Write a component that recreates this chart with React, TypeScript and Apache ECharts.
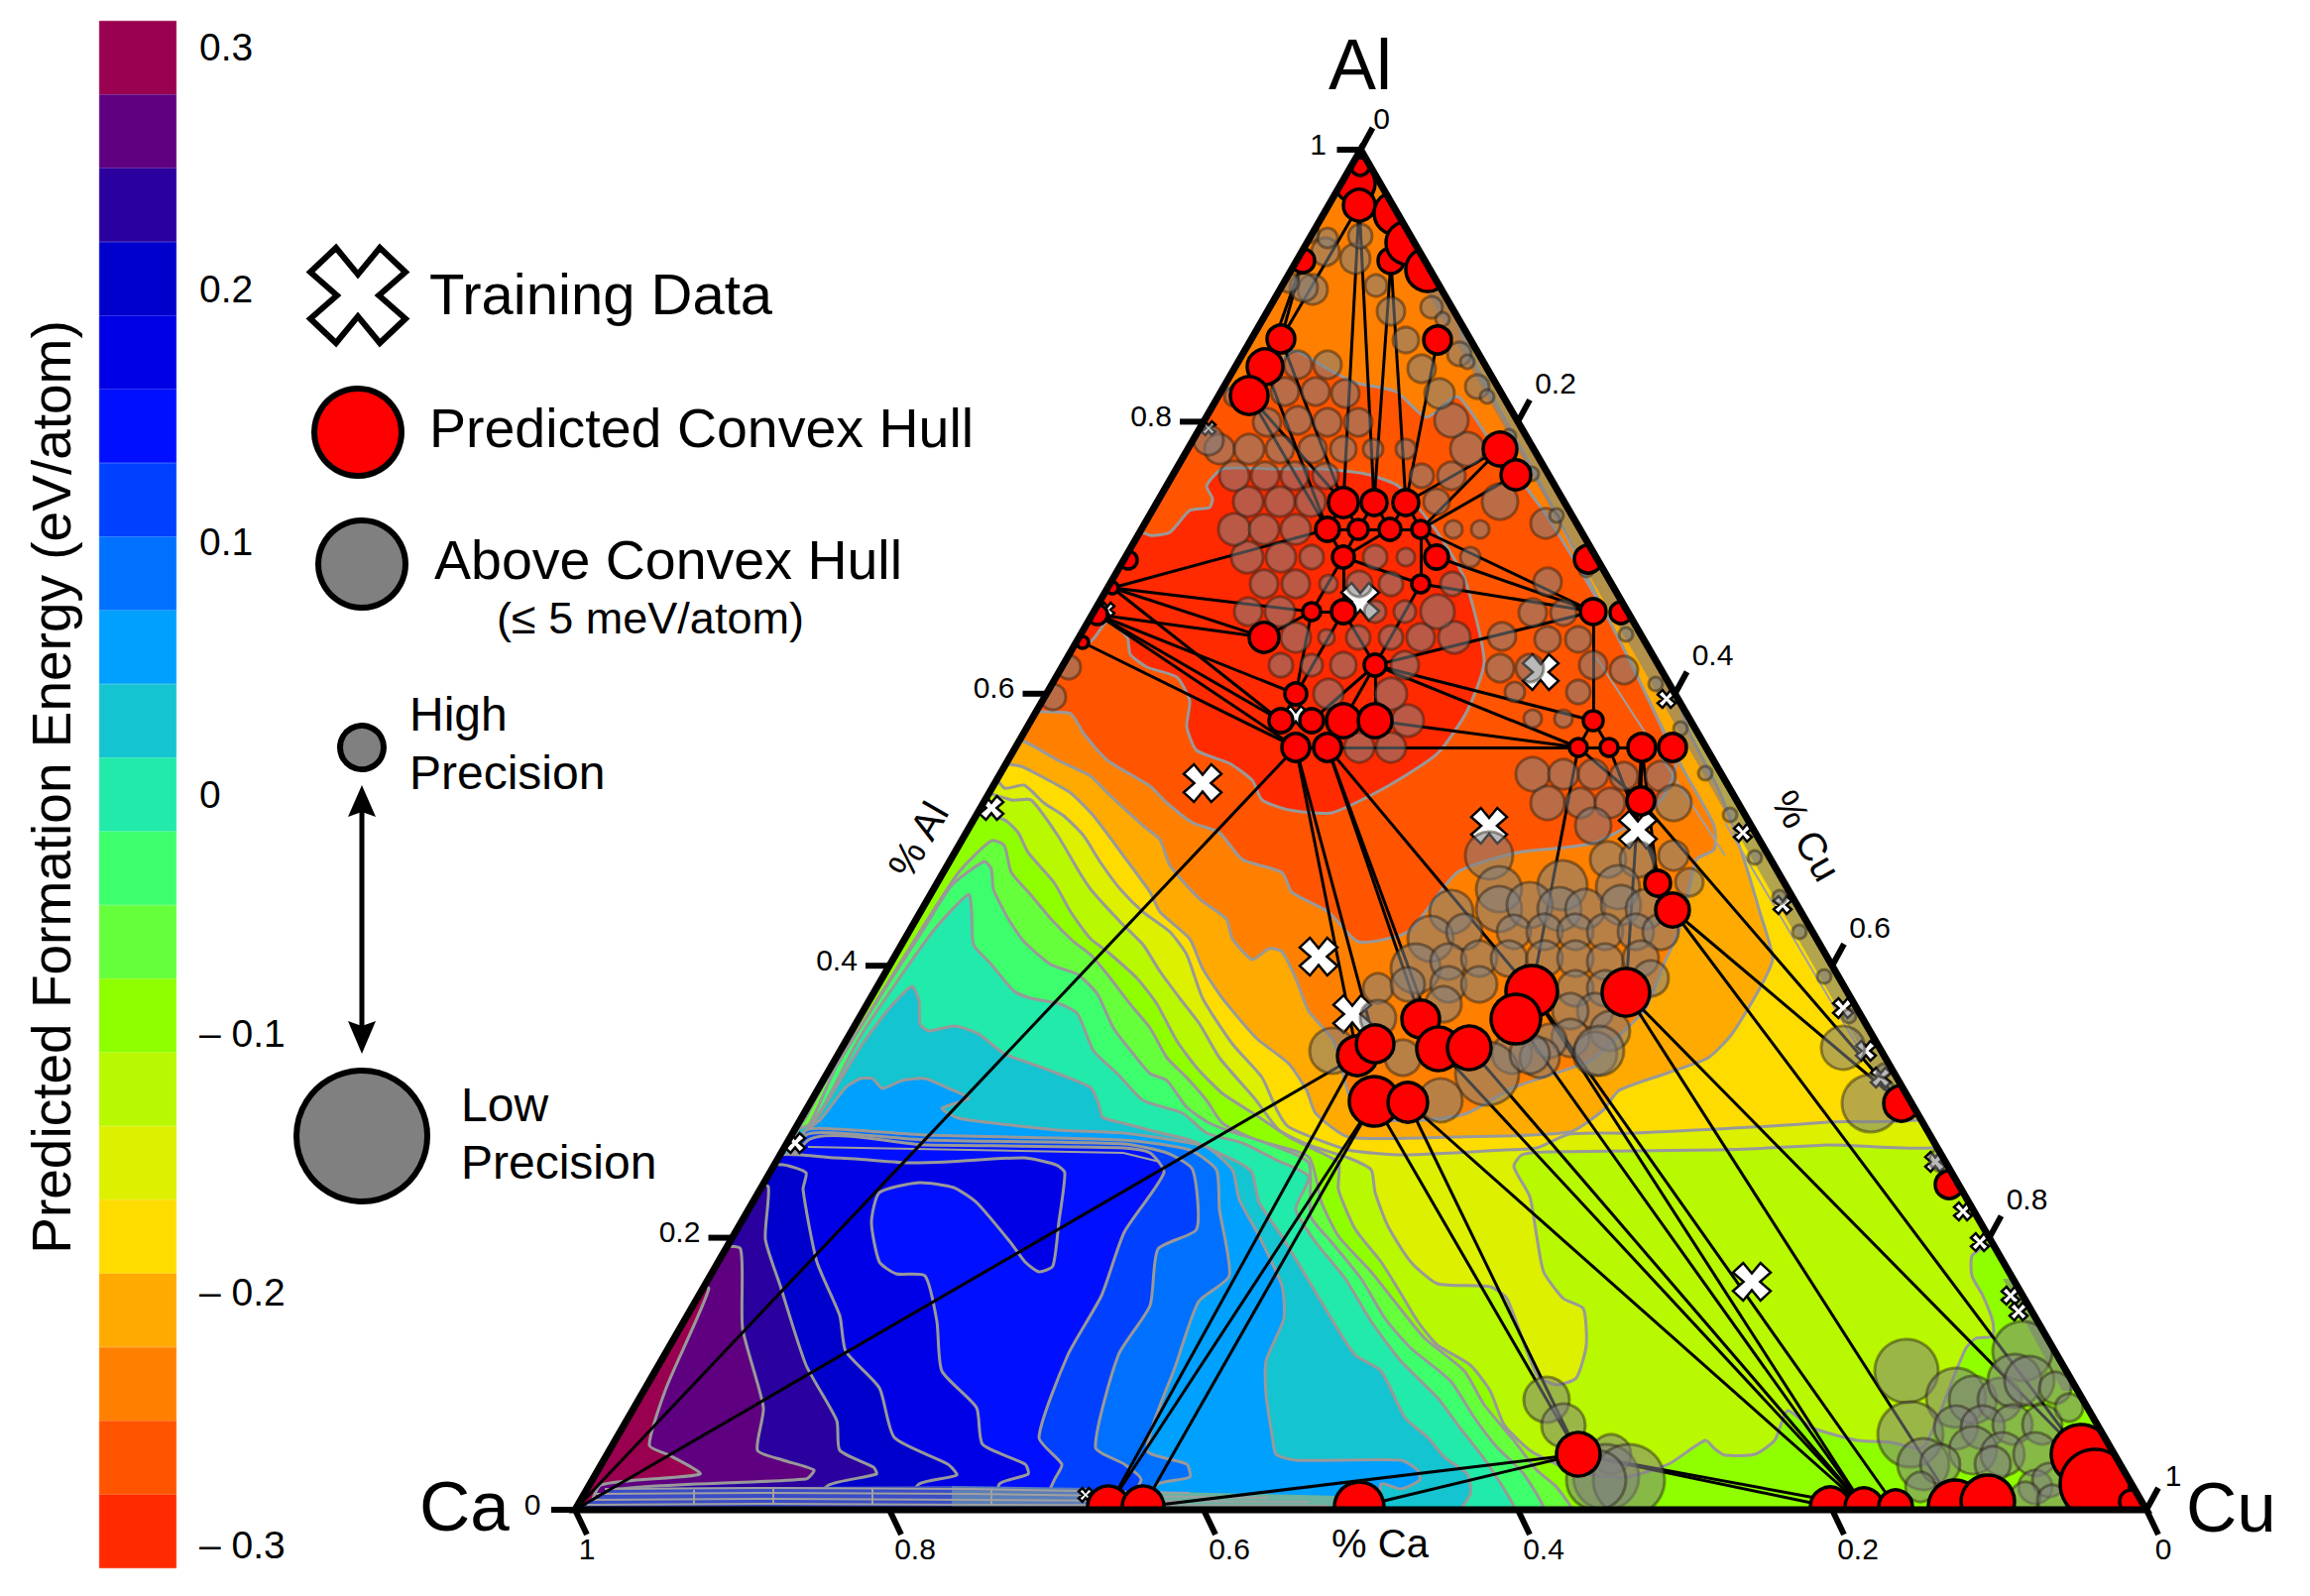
import React, { useEffect, useRef } from "react";
import * as echarts from "echarts";

type P = number[];
const FONT = '"Liberation Sans", Arial, sans-serif';

// Ternary plane: x runs along the Ca-Cu side, y is the height towards Al; side = 1585 units.
const SIDE = 1585;
const HEIGHT = 1372;

const bandColors = ["#990050","#5f0080","#2a009e","#0000cc","#0000e6","#0010ff","#0040ff","#0070ff","#00a0ff","#14c4d0","#22eaaa","#3dff6e","#66ff3c","#8fff00","#b8f800","#dcf000","#ffdc00","#ffaa00","#ff8000","#ff5500","#ff2a00"];
const barValues = bandColors.map(() => 1);
const barCats = bandColors.map((_, i) => "b" + i);
const energyLabels = ["0.3","0.2","0.1","0","– 0.1","– 0.2","– 0.3"];

const tickFractions = [0, 0.2, 0.4, 0.6, 0.8, 1];
const tickLabels = ["0", "0.2", "0.4", "0.6", "0.8", "1"];

const baseBand: P[] = [[0,0],[792.5,1372],[1585,0]];
const s13: P[] = [[395,703],[433,696],[447,683],[457,663],[483,633],[500,603],[520,576],[537,563],[567,536],[587,510],[607,473],[627,446],[653,420],[687,398],[720,376],[740,366],[770,350],[770,323],[787,283],[813,250],[830,223],[850,190],[870,166],[903,146],[923,120],[937,86],[963,60],[990,46],[1020,36],[1060,33],[1103,46],[1140,70],[1150,61],[1160,55],[1190,56],[1210,70],[1223,100],[1247,83],[1293,70],[1327,68],[1360,63],[1393,140],[1403,163],[1413,173],[1430,175],[1430,190],[1420,216],[1409,236],[1409,256],[1423,266],[1460,266],[1610,-17],[-20,-17]];
const s12: P[] = [[-15,-12],[210,363],[233,396],[253,433],[287,486],[337,566],[387,643],[420,675],[433,670],[440,643],[460,620],[480,596],[503,573],[520,560],[537,540],[560,510],[580,486],[597,456],[617,436],[637,413],[653,390],[687,373],[740,356],[753,310],[770,276],[803,240],[830,206],[857,173],[897,140],[917,106],[947,70],[970,40],[990,23],[1007,-7]];
const s11: P[] = [[-15,-12],[215,371],[237,390],[263,446],[313,526],[350,583],[380,630],[413,654],[420,646],[422,626],[437,596],[453,573],[480,550],[507,540],[527,520],[543,486],[563,460],[580,440],[597,433],[617,406],[640,390],[663,381],[697,370],[740,350],[742,296],[763,270],[793,233],[817,193],[843,163],[883,130],[907,93],[930,63],[957,36],[977,-7]];
const s10: P[] = [[-15,-12],[218,375],[233,383],[250,406],[287,476],[327,536],[363,586],[397,621],[400,603],[402,570],[420,550],[443,523],[460,516],[490,510],[507,500],[523,463],[547,440],[573,413],[613,400],[637,380],[673,370],[707,353],[740,336],[727,303],[747,270],[777,233],[803,190],[833,150],[870,113],[890,86],[923,43],[947,-7]];
const s9: P[] = [[-15,-12],[225,383],[240,390],[263,426],[290,470],[317,506],[340,528],[347,513],[348,490],[357,483],[383,488],[407,480],[433,460],[460,450],[487,440],[520,426],[528,410],[532,396],[553,390],[587,381],[620,373],[670,350],[683,340],[690,310],[713,276],[743,226],[767,186],[787,156],[813,140],[837,93],[860,73],[877,53],[900,36],[903,16],[883,-7]];
const s8: P[] = [[-15,-12],[230,380],[247,393],[273,426],[288,435],[300,435],[310,425],[330,433],[353,435],[377,425],[397,415],[370,405],[387,395],[440,388],[487,383],[553,380],[603,373],[637,366],[663,343],[670,313],[690,276],[713,226],[715,193],[697,150],[697,116],[703,76],[707,56],[727,50],[770,50],[833,50],[850,40],[852,30],[833,21],[813,26],[810,-7]];
const s7: P[] = [[-15,-12],[232,382],[263,384],[353,378],[553,373],[620,363],[647,343],[650,303],[660,236],[629,210],[606,146],[577,60],[617,46],[620,33],[588,26],[550,-7]];
const s6: P[] = [[-15,-12],[232,377],[263,380],[353,373],[553,369],[597,360],[623,343],[627,283],[588,263],[580,206],[548,156],[525,63],[554,46],[571,30],[540,-7]];
const s5: P[] = [[-15,-12],[233,371],[353,368],[553,365],[580,360],[594,340],[554,280],[531,216],[497,156],[468,73],[491,46],[485,33],[460,-7]];
const s4: P[] = [[-15,-12],[190,353],[263,355],[337,350],[377,351],[453,355],[485,348],[494,340],[488,290],[482,246],[468,240],[454,250],[439,270],[405,310],[382,325],[347,330],[307,320],[299,290],[307,250],[324,238],[353,236],[365,190],[370,140],[405,103],[411,66],[454,46],[457,36],[428,26],[420,-7]];
const s3: P[] = [[-15,-12],[190,345],[210,348],[233,340],[230,323],[244,250],[267,196],[273,160],[307,123],[322,73],[376,46],[385,35],[347,26],[320,-7]];
const s2: P[] = [[-15,-12],[180,326],[195,326],[192,273],[207,226],[233,146],[264,90],[267,60],[301,43],[304,36],[256,25],[220,-7]];
const s1: P[] = [[-15,-12],[145,263],[167,263],[169,183],[190,103],[184,60],[210,50],[241,40],[233,31],[37,20],[10,-7]];
const s0: P[] = [[-15,-12],[120,223],[135,223],[92,123],[75,65],[95,55],[126,36],[26,25],[10,-7]];
const t15: P[] = [[405,733],[440,716],[460,716],[487,680],[507,646],[520,626],[550,593],[573,570],[590,543],[610,516],[630,490],[650,456],[687,413],[710,383],[740,368],[780,355],[803,343],[807,320],[820,286],[843,250],[870,228],[923,225],[940,213],[970,136],[990,126],[1010,133],[1020,166],[1017,203],[997,213],[977,240],[970,276],[963,316],[947,346],[955,358],[980,361],[1150,363],[1263,368],[1395,376],[792,1380]];
const t16: P[] = [[420,753],[433,728],[453,731],[473,713],[493,700],[513,680],[530,653],[550,626],[573,603],[600,583],[617,560],[633,516],[663,470],[693,436],[708,403],[720,386],[780,363],[837,358],[937,363],[970,365],[1003,379],[1070,380],[1263,391],[1380,405],[792,1380]];
const t17: P[] = [[420,758],[450,750],[470,740],[500,723],[523,700],[553,660],[580,623],[590,603],[620,576],[633,546],[653,516],[687,476],[720,450],[738,423],[747,400],[780,376],[883,376],[1003,381],[1037,403],[1053,423],[1103,441],[1143,456],[1167,480],[1195,526],[1208,556],[1195,603],[1180,653],[1155,723],[1120,793],[1090,903],[792,1380]];
const t18: P[] = [[425,778],[453,775],[487,756],[520,740],[537,723],[573,690],[590,676],[600,650],[630,616],[657,596],[663,576],[683,555],[700,566],[713,563],[727,536],[740,503],[765,473],[790,398],[857,393],[900,400],[947,426],[1024,453],[1055,480],[1080,506],[1098,550],[1110,576],[1120,606],[1131,656],[1149,666],[1149,690],[1116,750],[1050,883],[980,1023],[900,1173],[830,1373],[792,1380]];
const t19: P[] = [[605,1103],[690,1143],[726,1169],[755,1153],[787,1137],[828,1128],[859,1102],[890,1123],[920,1083],[980,1003],[1040,903],[1080,823],[1110,753],[1100,723],[1080,700],[1029,673],[998,668],[950,663],[890,643],[840,583],[790,573],[760,603],[723,623],[713,643],[673,656],[650,683],[623,693],[597,713],[580,730],[537,756],[513,783],[500,803],[470,805],[450,805]];
const t20: P[] = [[550,993],[580,983],[600,986],[620,1008],[640,1011],[643,1020],[637,1033],[653,1050],[703,1050],[753,1050],[797,1045],[830,1033],[867,990],[897,940],[917,856],[900,806],[870,763],[820,730],[763,703],[720,706],[693,716],[683,736],[660,753],[627,766],[617,790],[620,816],[607,840],[577,850],[560,863],[557,880],[537,896],[520,876],[480,873]];

const contourLayers: { band: number; pts: P[]; stroke: boolean }[] = [
  { band: 14, pts: baseBand, stroke: false },
  { band: 13, pts: s13, stroke: true }, { band: 12, pts: s12, stroke: true }, { band: 11, pts: s11, stroke: true },
  { band: 10, pts: s10, stroke: true }, { band: 9, pts: s9, stroke: true }, { band: 8, pts: s8, stroke: true },
  { band: 7, pts: s7, stroke: true }, { band: 6, pts: s6, stroke: true }, { band: 5, pts: s5, stroke: true },
  { band: 4, pts: s4, stroke: true }, { band: 3, pts: s3, stroke: true }, { band: 2, pts: s2, stroke: true },
  { band: 1, pts: s1, stroke: true }, { band: 0, pts: s0, stroke: true },
  { band: 15, pts: t15, stroke: true }, { band: 16, pts: t16, stroke: true }, { band: 17, pts: t17, stroke: true },
  { band: 18, pts: t18, stroke: true }, { band: 19, pts: t19, stroke: true }, { band: 20, pts: t20, stroke: true },
];

// Densely contoured strip along the Ca-Cu side
const stripPatches: { color: string; pts: P[] }[] = [
  { color: "#3a4cc6", pts: [[0,0],[40,22],[380,24],[380,0]] },
  { color: "#5b7db8", pts: [[380,0],[380,24],[520,22],[520,0]] },
  { color: "#6ab3a0", pts: [[520,0],[520,20],[770,14],[770,0]] },
  { color: "rgba(128,128,128,0.6)", pts: [[845,1253],[880,1253],[1365,408],[1330,408]] },
  { color: "rgba(128,128,128,0.6)", pts: [[1440,233],[1460,233],[1530,120],[1500,120]] },
];
const extraLines: P[][] = [
  [[30,21],[200,22],[400,21],[620,17]], [[20,16],[200,17],[400,16],[700,12]], [[15,10],[200,11],[400,10],[740,8]], [[12,5],[200,6],[400,5],[760,4]],
  [[120,6],[120,20]], [[200,6],[200,21]], [[300,6],[300,21]], [[420,6],[420,20]],
  [[235,366],[553,360],[590,351]], [[1160,693],[1320,423]], [[1030,860],[1160,660]],
];

// [x, y, diameter]
const hullPoints: P[] = [[0,0,4],[775,1016,30],[806,1016,26],[838,1016,26],[759,989,24],[790,989,20],[822,989,22],[853,989,18],[775,961,22],[869,961,24],[853,934,18],[743,906,18],[775,906,24],[695,880,30],[807,852,22],[727,823,22],[712,796,24],[743,796,24],[775,796,34],[807,796,34],[727,769,28],[759,769,28],[1027,906,26],[1027,796,20],[1012,769,18],[1043,769,18],[1076,769,28],[1107,769,28],[712,1181,28],[696,1153,36],[680,1124,38],[870,1180,28],[933,1070,34],[949,1044,30],[1075,715,28],[1092,632,26],[1107,605,34],[1060,522,48],[965,523,52],[949,495,50],[853,495,38],[871,465,44],[902,466,44],[789,458,40],[807,470,38],[806,412,50],[840,411,40],[1338,410,36],[1386,328,28],[1012,56,44],[1266,3,40],[1300,3,38],[1332,3,34],[1392,3,54],[1425,8,54],[1519,56,60],[1533,26,70],[1570,8,24],[538,3,42],[573,3,42],[791,3,50],[787,1338,40],[791,1316,32],[828,1308,44],[823,1260,26],[840,1278,44],[860,1251,44],[734,1260,24],[1022,959,28],[1055,905,22],[558,958,18],[542,930,12],[527,903,20],[512,875,12],[792,1355,18]];

const tieLines: number[][] = [[0,20],[0,43],[58,43],[58,45],[59,45],[59,49],[60,49],[45,49],[46,49],[46,51],[41,51],[42,51],[39,51],[38,51],[38,52],[37,53],[37,55],[36,55],[34,47],[36,47],[49,50],[49,51],[20,43],[20,44],[21,40],[21,38],[21,41],[71,4],[71,11],[71,13],[72,13],[72,15],[72,16],[72,20],[73,20],[71,16],[62,1],[62,2],[64,2],[64,3],[31,3],[62,28],[67,28],[67,29],[28,1],[29,4],[30,4],[30,1],[32,3],[32,7],[33,7],[4,1],[1,5],[5,2],[2,6],[6,3],[3,7],[4,5],[5,6],[6,7],[8,4],[8,5],[8,6],[8,10],[7,10],[9,7],[8,11],[8,12],[11,15],[12,16],[13,11],[11,12],[10,14],[14,18],[14,19],[14,17],[12,14],[7,22],[9,22],[10,22],[14,22],[14,24],[19,24],[21,24],[20,24],[14,23],[22,23],[23,24],[24,25],[23,25],[25,26],[24,34],[26,34],[34,35],[24,38],[26,37],[25,36],[35,36],[26,35]];

const aboveHull: P[] = [[791,769,30],[823,769,30],[840,796,32],[760,823,30],[823,823,32],[712,852,24],[743,852,22],[775,852,26],[837,852,28],[727,880,30],[758,880,16],[790,880,24],[823,880,24],[853,880,28],[887,880,32],[679,906,28],[711,906,30],[807,906,22],[837,906,22],[870,906,34],[695,934,28],[727,934,28],[760,934,18],[791,934,26],[823,934,24],[885,934,24],[678,961,32],[712,961,30],[743,961,24],[807,961,24],[838,961,18],[903,961,20],[665,989,32],[695,989,30],[727,989,30],[886,989,18],[913,989,18],[679,1017,30],[711,1017,30],[742,1017,30],[869,1017,26],[933,1017,36],[665,1043,30],[696,1043,28],[726,1043,28],[757,1043,26],[854,1043,24],[884,1043,28],[650,1070,30],[680,1070,30],[711,1070,28],[744,1070,28],[775,1070,26],[805,1070,20],[838,1070,20],[900,1070,34],[698,1097,28],[729,1099,28],[759,1097,28],[790,1097,28],[884,1099,34],[716,1128,28],[747,1128,28],[777,1126,28],[854,1151,28],[872,1126,30],[729,1155,28],[759,1155,28],[787,1262,30],[757,1269,28],[744,1231,30],[823,1209,28],[808,1235,22],[838,1180,26],[792,1285,24],[759,1283,20],[735,1233,28],[864,1213,22],[892,1166,24],[910,1133,24],[639,1079,30],[498,850,24],[482,820,26],
[979,995,30],[981,936,28],[966,905,28],[997,905,26],[935,881,28],[981,878,26],[1012,878,26],[933,849,28],[963,849,28],[1027,852,28],[1058,847,28],[948,825,20],[1012,825,24],[966,798,18],[997,798,18],[966,742,34],[997,742,30],[1027,742,30],[1058,740,28],[1095,740,30],[981,713,34],[1014,713,30],[1044,713,30],[1108,713,36],[1027,690,36],[922,660,48],[1042,656,36],[1072,656,36],[1108,660,30],[932,626,46],[996,630,50],[1052,628,44],[1124,633,28],[884,603,44],[932,606,46],[963,610,46],[993,606,44],[1019,606,40],[1055,610,40],[1080,606,40],[863,576,46],[897,583,36],[947,583,34],[978,583,36],[1009,583,36],[1039,583,36],[1070,583,36],[1095,583,36],[848,546,50],[881,553,36],[912,556,36],[942,556,36],[978,556,36],[1009,556,36],[1039,553,36],[1075,556,36],[881,530,36],[912,530,36],[1009,526,36],[1039,526,36],[1085,536,36],[810,526,30],[840,530,34],[876,510,36],[1029,503,36],[1004,503,36],[1044,483,40],[1004,476,38],[983,473,34],[764,463,46],[810,496,36],[835,456,36],[945,460,40],[973,456,40],[1029,460,44],[920,440,64],[873,413,44],[1033,463,50],[963,460,40],
[1279,466,44],[1307,410,58],[1378,353,24],[980,111,46],[997,85,44],[1045,56,40],[1040,33,66],[1063,30,72],[1030,30,60],[1343,140,64],[1393,113,60],[1347,76,66],[1360,46,52],[1410,111,48],[1437,111,44],[1460,160,60],[1452,130,54],[1467,130,50],[1393,83,44],[1420,83,44],[1450,86,40],[1480,86,40],[1410,60,48],[1440,56,44],[1473,56,44],[1377,46,40],[1473,23,34],[1487,30,34],[1493,123,32],[1507,103,28],[1463,13,30],[1490,10,30],[1430,46,36],[1357,23,30],
[875,1201,14],[900,1158,14],[920,1123,14],[942,1083,14],[965,1045,14],[990,1003,14],[1020,948,14],[1060,883,14],[1090,833,14],[1115,788,14],[1140,743,14],[1165,701,14],[1190,658,14],[1215,618,14],[1235,583,14],[1260,538,14],[1285,498,14],[1320,443,14],[1342,403,14],[740,1288,20],[720,1238,20],[665,1123,20]];

const trainingData: P[] = [[633,733,38],[792,916,38],[974,845,36],[922,690,36],[1072,686,38],[750,558,38],[784,500,38],[1187,230,38],[420,708,24],[222,370,20],[537,908,14],[727,800,22],[1101,818,18],[1178,683,18],[1218,610,18],[1279,506,20],[1302,463,20],[1317,436,20],[1372,351,20],[1400,301,18],[1417,270,18],[1448,216,18],[1456,200,18],[639,1091,14],[515,15,14]];

const XPATH = "path://M2.7,0L5,2.8L7.3,0L10,2.55L7.2,5L10,7.45L7.3,10L5,7.2L2.7,10L0,7.45L2.8,5L0,2.55Z";
const xPoly = (cx: number, cy: number, s: number) =>
  [[2.7,0],[5,2.8],[7.3,0],[10,2.55],[7.2,5],[10,7.45],[7.3,10],[5,7.2],[2.7,10],[0,7.45],[2.8,5],[0,2.55]].map((p) => [cx + (p[0] - 5) * s, cy + (p[1] - 5) * s]);

const maskPolys: P[][] = [
  [[0,0],[792.5,1372],[760,1420],[-80,0]],
  [[-80,0],[1665,0],[1665,-90],[-80,-90]],
  [[1585,0],[792.5,1372],[825,1420],[1665,0]],
  [[740,1372],[845,1372],[845,1430],[740,1430]],
];

const polyItem = (api: any, pts: P[]) => pts.map((p) => api.coord(p));

function buildOption() {
  const txt = (text: string, x: number, y: number, size: number, extra: any = {}) => ({
    type: "text", x, y, z: 20, rotation: extra.rotation || 0,
    style: { text, font: `${size}px ${FONT}`, fill: "#000", align: extra.align || "left", verticalAlign: "middle" },
  });
  const energyY = [47, 291, 546, 801, 1042, 1303, 1558];
  const circle = (cx: number, cy: number, r: number, fill: string, w: number) => ({
    type: "circle", z: 20, shape: { cx, cy, r }, style: { fill, stroke: "#000", lineWidth: w },
  });
  const graphic: any[] = [
    ...energyLabels.map((t, i) => txt(t, 201, energyY[i], 39)),
    txt("Predicted Formation Energy (eV/atom)", 52, 794, 55, { rotation: Math.PI / 2, align: "center" }),
    { type: "polygon", z: 20, shape: { points: xPoly(361, 298, 9.6) }, style: { fill: "#fff", stroke: "#000", lineWidth: 6 } },
    txt("Training Data", 433, 296, 58),
    circle(361, 436, 44, "#ff0000", 6),
    txt("Predicted Convex Hull", 433, 432, 55.5),
    circle(365, 569, 44, "#808080", 6),
    txt("Above Convex Hull", 438, 565, 55.5),
    txt("(≤ 5 meV/atom)", 656, 623, 45, { align: "center" }),
    circle(365, 754, 22, "#808080", 6),
    txt("High", 413, 720, 48),
    txt("Precision", 413, 779, 48),
    { type: "line", z: 20, shape: { x1: 365, y1: 815, x2: 365, y2: 1040 }, style: { stroke: "#000", lineWidth: 5 } },
    { type: "polygon", z: 20, shape: { points: [[365,792],[379,824],[365,819],[351,824]] }, style: { fill: "#000" } },
    { type: "polygon", z: 20, shape: { points: [[365,1063],[379,1030],[365,1035],[351,1030]] }, style: { fill: "#000" } },
    circle(365, 1146, 66, "#808080", 6),
    txt("Low", 465, 1114, 48),
    txt("Precision", 465, 1172, 48),
    txt("Al", 1372, 65, 72, { align: "center" }),
    txt("Ca", 423, 1519, 71),
    txt("Cu", 2205, 1520, 71),
    txt("% Al", 926, 847, 40, { rotation: Math.PI / 3, align: "center" }),
    txt("% Cu", 1822, 843, 40, { rotation: -Math.PI / 3, align: "center" }),
    txt("% Ca", 1392, 1557, 40, { align: "center" }),
  ];

  const tickData: number[][] = [];
  [0, 1, 2].forEach((side) => tickFractions.forEach((_, i) => tickData.push([side, i])));

  return {
    animation: false,
    backgroundColor: "#fff",
    grid: [
      { left: 580, top: 151, width: SIDE, height: HEIGHT },
      { left: 100, top: 21, width: 78, height: 1561 },
    ],
    xAxis: [
      { type: "value", gridIndex: 0, min: 0, max: SIDE, show: false },
      { type: "value", gridIndex: 1, min: 0, max: 1, show: false },
    ],
    yAxis: [
      { type: "value", gridIndex: 0, min: 0, max: HEIGHT, show: false },
      { type: "category", gridIndex: 1, data: barCats, inverse: true, show: false },
    ],
    graphic,
    series: [
      {
        type: "bar", xAxisIndex: 1, yAxisIndex: 1, barWidth: "100%", silent: true,
        data: barValues.map((v, i) => ({ value: v, itemStyle: { color: bandColors[i], borderColor: bandColors[i], borderWidth: 0.5 } })),
      },
      {
        type: "custom", name: "contours", z: 2, silent: true, clip: false,
        data: contourLayers.map((_, i) => [i, 0]),
        renderItem: (params: any, api: any) => {
          const l = contourLayers[params.dataIndex];
          return { type: "polygon", shape: { points: polyItem(api, l.pts), smooth: l.stroke ? 0.2 : 0 },
            style: { fill: bandColors[l.band], stroke: l.stroke ? "#999999" : "none", lineWidth: 3 } };
        },
      },
      {
        type: "custom", name: "strip", z: 3, silent: true, clip: false,
        data: stripPatches.map((_, i) => [i, 0]),
        renderItem: (params: any, api: any) => {
          const l = stripPatches[params.dataIndex];
          return { type: "polygon", shape: { points: polyItem(api, l.pts) }, style: { fill: l.color } };
        },
      },
      {
        type: "custom", name: "extra contours", z: 3, silent: true, clip: false,
        data: extraLines.map((_, i) => [i, 0]),
        renderItem: (params: any, api: any) => ({
          type: "polyline", shape: { points: polyItem(api, extraLines[params.dataIndex]) },
          style: { fill: "none", stroke: "#a0a0a0", lineWidth: 2 },
        }),
      },
      {
        type: "lines", name: "tie lines", coordinateSystem: "cartesian2d", z: 4, silent: true, clip: false,
        lineStyle: { color: "#000", width: 3, opacity: 1 },
        data: tieLines.map(([a, b]) => ({ coords: [[hullPoints[a][0], hullPoints[a][1]], [hullPoints[b][0], hullPoints[b][1]]] })),
      },
      {
        type: "scatter", name: "Training Data", z: 5, silent: true, clip: false,
        symbol: XPATH, symbolKeepAspect: true, symbolSize: (d: P) => d[2],
        itemStyle: { color: "#fff", borderColor: "#000", borderWidth: 2.5, opacity: 1 },
        data: trainingData,
      },
      {
        type: "scatter", name: "Above Convex Hull", z: 6, silent: true, clip: false,
        symbolSize: (d: P) => d[2],
        itemStyle: { color: "rgba(128,128,128,0.55)", borderColor: "rgba(40,30,20,0.45)", borderWidth: 3, opacity: 1 },
        data: aboveHull,
      },
      {
        type: "scatter", name: "Predicted Convex Hull", z: 7, silent: true, clip: false,
        symbolSize: (d: P) => d[2],
        itemStyle: { color: "#ff0000", borderColor: "#000", borderWidth: 3.5, opacity: 1 },
        data: hullPoints,
      },
      {
        type: "custom", name: "outside mask", z: 8, silent: true, clip: false,
        data: maskPolys.map((_, i) => [i, 0]),
        renderItem: (params: any, api: any) => ({
          type: "polygon", shape: { points: polyItem(api, maskPolys[params.dataIndex]) }, style: { fill: "#fff" },
        }),
      },
      {
        type: "custom", name: "frame", z: 9, silent: true, clip: false,
        data: [[0, 0]],
        renderItem: (_: any, api: any) => ({
          type: "polygon", shape: { points: polyItem(api, baseBand) }, style: { fill: "none", stroke: "#000", lineWidth: 7, lineJoin: "miter" },
        }),
      },
      {
        type: "custom", name: "ternary ticks", z: 10, silent: true, clip: false,
        data: tickData,
        renderItem: (params: any, api: any) => {
          const [side, i] = tickData[params.dataIndex];
          const f = tickFractions[i];
          let at: number[], d: number[], off: number[];
          const isInt = f === 0 || f === 1;
          if (side === 0) { // % Al along Ca -> Al
            at = api.coord([f * SIDE / 2, f * HEIGHT]); d = [-24, 0];
            off = isInt ? [-43, -6] : [-53, -6];
          } else if (side === 1) { // % Cu along Al -> Cu
            at = api.coord([SIDE / 2 + f * SIDE / 2, HEIGHT * (1 - f)]); d = [12, -22];
            off = f === 0 ? [21, -32] : f === 1 ? [27, -35] : [38, -39];
          } else { // % Ca along Cu -> Ca
            at = api.coord([SIDE * (1 - f), 0]); d = [12, 25];
            off = f === 0 ? [17, 39] : f === 1 ? [12, 39] : [26, 39];
          }
          return {
            type: "group",
            children: [
              { type: "line", shape: { x1: at[0], y1: at[1], x2: at[0] + d[0], y2: at[1] + d[1] }, style: { stroke: "#000", lineWidth: 6 } },
              { type: "text", x: at[0] + off[0], y: at[1] + off[1],
                style: { text: tickLabels[i], font: `30px ${FONT}`, fill: "#000", align: "center", verticalAlign: "middle" } },
            ],
          };
        },
      },
    ],
  };
}

export default function App() {
  const ref = useRef<HTMLDivElement>(null);
  useEffect(() => {
    document.body.style.margin = "0";
    const chart = echarts.init(ref.current!, undefined, { renderer: "svg" });
    chart.setOption(buildOption() as any);
    return () => chart.dispose();
  }, []);
  return <div ref={ref} style={{ width: 2330, height: 1610 }} />;
}
